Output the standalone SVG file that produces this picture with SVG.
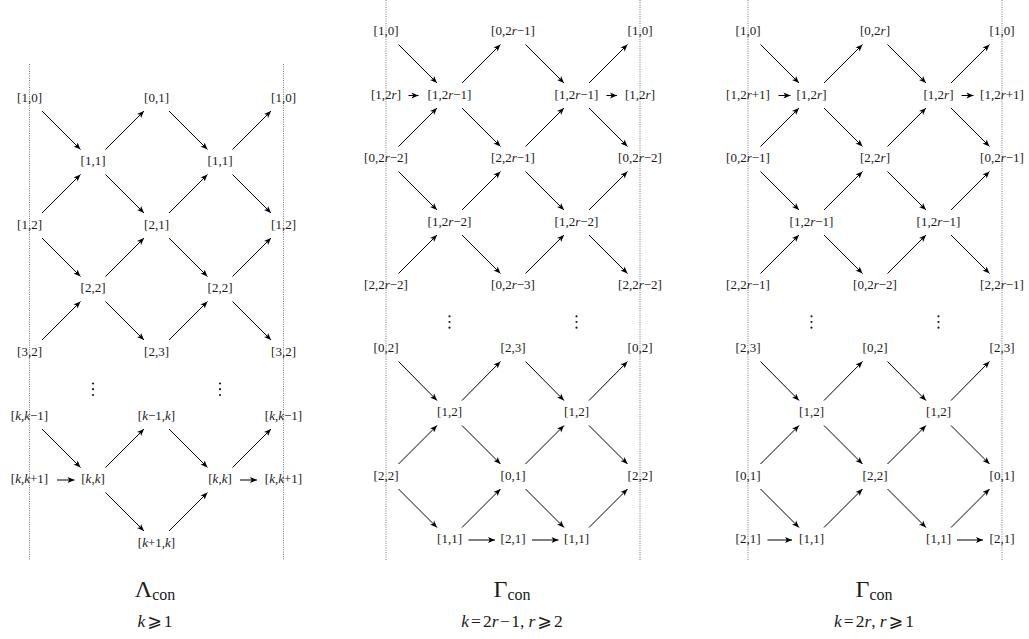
<svg xmlns="http://www.w3.org/2000/svg" width="1029" height="639" viewBox="0 0 1029 639">
  <defs>
    <marker id="head" viewBox="-7.5 -3.5 8 7" refX="0" refY="0" markerWidth="8" markerHeight="7" markerUnits="userSpaceOnUse" orient="auto">
      <path d="M0,0 L-7,-2.9 L-5.2,0 L-7,2.9 Z" fill="#000"/>
    </marker>
  </defs>
  <style>
    text { font-family: "Liberation Serif", "DejaVu Serif", "DejaVu Sans", serif; fill: #1a1a1a; }
    .node text { font-size: 13px; text-anchor: middle; }
    .v { font-style: italic; }
    .edge line { stroke: #000; stroke-width: 1; marker-end: url(#head); }
    .seam { stroke: #777; stroke-width: 1; stroke-dasharray: 1 1.3; fill: none; }
    .dots circle { fill: #1a1a1a; }
    .title { font-size: 24px; text-anchor: middle; }
    .title .sub { font-size: 16px; }
    .cond { font-size: 17.5px; text-anchor: middle; }
  </style>

  <!-- periodic seams (left and right sides are identified) -->
  <g id="seams">
    <line class="seam" x1="29.5" y1="64" x2="29.5" y2="560"/>
    <line class="seam" x1="283.5" y1="64" x2="283.5" y2="560"/>
    <line class="seam" x1="386" y1="0" x2="386" y2="560"/>
    <line class="seam" x1="640" y1="0" x2="640" y2="560"/>
    <line class="seam" x1="748" y1="0" x2="748" y2="560"/>
    <line class="seam" x1="1002" y1="0" x2="1002" y2="560"/>
  </g>

  <!-- arrows -->
  <g id="connectors" class="edge">
    <!-- Lambda_con, upper block -->
    <line x1="42" y1="111" x2="80.5" y2="149.5"/>
    <line x1="169" y1="111" x2="207.5" y2="149.5"/>
    <line x1="105.5" y1="174.5" x2="144" y2="213"/>
    <line x1="232.5" y1="174.5" x2="271" y2="213"/>
    <line x1="42" y1="238" x2="80.5" y2="276.5"/>
    <line x1="169" y1="238" x2="207.5" y2="276.5"/>
    <line x1="105.5" y1="301.5" x2="144" y2="340"/>
    <line x1="232.5" y1="301.5" x2="271" y2="340"/>
    <line x1="105.5" y1="149.5" x2="144" y2="111"/>
    <line x1="232.5" y1="149.5" x2="271" y2="111"/>
    <line x1="42" y1="213" x2="80.5" y2="174.5"/>
    <line x1="169" y1="213" x2="207.5" y2="174.5"/>
    <line x1="105.5" y1="276.5" x2="144" y2="238"/>
    <line x1="232.5" y1="276.5" x2="271" y2="238"/>
    <line x1="42" y1="340" x2="80.5" y2="301.5"/>
    <line x1="169" y1="340" x2="207.5" y2="301.5"/>
    <!-- Lambda_con, lower block -->
    <line x1="42" y1="429" x2="80.5" y2="467.5"/>
    <line x1="169" y1="429" x2="207.5" y2="467.5"/>
    <line x1="105.5" y1="467.5" x2="144" y2="429"/>
    <line x1="232.5" y1="467.5" x2="271" y2="429"/>
    <line x1="105.5" y1="492.5" x2="144" y2="531"/>
    <line x1="169" y1="531" x2="207.5" y2="492.5"/>
    <line x1="57" y1="480" x2="74.5" y2="480"/>
    <line x1="240" y1="480" x2="257" y2="480"/>

    <!-- Gamma_con (k odd), upper block -->
    <line x1="398.5" y1="44.5" x2="437" y2="83"/>
    <line x1="525.5" y1="44.5" x2="564" y2="83"/>
    <line x1="462" y1="108" x2="500.5" y2="146.5"/>
    <line x1="589" y1="108" x2="627.5" y2="146.5"/>
    <line x1="398.5" y1="171.5" x2="437" y2="210"/>
    <line x1="525.5" y1="171.5" x2="564" y2="210"/>
    <line x1="462" y1="235" x2="500.5" y2="273.5"/>
    <line x1="589" y1="235" x2="627.5" y2="273.5"/>
    <line x1="462" y1="83" x2="500.5" y2="44.5"/>
    <line x1="589" y1="83" x2="627.5" y2="44.5"/>
    <line x1="398.5" y1="146.5" x2="437" y2="108"/>
    <line x1="525.5" y1="146.5" x2="564" y2="108"/>
    <line x1="462" y1="210" x2="500.5" y2="171.5"/>
    <line x1="589" y1="210" x2="627.5" y2="171.5"/>
    <line x1="398.5" y1="273.5" x2="437" y2="235"/>
    <line x1="525.5" y1="273.5" x2="564" y2="235"/>
    <line x1="408.5" y1="95.5" x2="418.5" y2="95.5"/>
    <line x1="606.5" y1="95.5" x2="617" y2="95.5"/>
    <!-- Gamma_con (k odd), lower block -->
    <line x1="398.5" y1="361.5" x2="437" y2="400.5"/>
    <line x1="525.5" y1="361.5" x2="564" y2="400.5"/>
    <line x1="462" y1="425.5" x2="500.5" y2="464"/>
    <line x1="589" y1="425.5" x2="627.5" y2="464"/>
    <line x1="398.5" y1="489" x2="437" y2="527.5"/>
    <line x1="525.5" y1="489" x2="564" y2="527.5"/>
    <line x1="462" y1="400.5" x2="500.5" y2="361.5"/>
    <line x1="589" y1="400.5" x2="627.5" y2="361.5"/>
    <line x1="398.5" y1="464" x2="437" y2="425.5"/>
    <line x1="525.5" y1="464" x2="564" y2="425.5"/>
    <line x1="462" y1="527.5" x2="500.5" y2="489"/>
    <line x1="589" y1="527.5" x2="627.5" y2="489"/>
    <line x1="468.5" y1="540" x2="495" y2="540"/>
    <line x1="532" y1="540" x2="558.5" y2="540"/>

    <!-- Gamma_con (k even), upper block -->
    <line x1="760.5" y1="44.5" x2="799" y2="83"/>
    <line x1="887.5" y1="44.5" x2="926" y2="83"/>
    <line x1="824" y1="108" x2="862.5" y2="146.5"/>
    <line x1="951" y1="108" x2="989.5" y2="146.5"/>
    <line x1="760.5" y1="171.5" x2="799" y2="210"/>
    <line x1="887.5" y1="171.5" x2="926" y2="210"/>
    <line x1="824" y1="235" x2="862.5" y2="273.5"/>
    <line x1="951" y1="235" x2="989.5" y2="273.5"/>
    <line x1="824" y1="83" x2="862.5" y2="44.5"/>
    <line x1="951" y1="83" x2="989.5" y2="44.5"/>
    <line x1="760.5" y1="146.5" x2="799" y2="108"/>
    <line x1="887.5" y1="146.5" x2="926" y2="108"/>
    <line x1="824" y1="210" x2="862.5" y2="171.5"/>
    <line x1="951" y1="210" x2="989.5" y2="171.5"/>
    <line x1="760.5" y1="273.5" x2="799" y2="235"/>
    <line x1="887.5" y1="273.5" x2="926" y2="235"/>
    <line x1="778.5" y1="95.5" x2="790.5" y2="95.5"/>
    <line x1="961.5" y1="95.5" x2="973.5" y2="95.5"/>
    <!-- Gamma_con (k even), lower block -->
    <line x1="760.5" y1="361.5" x2="799" y2="400.5"/>
    <line x1="887.5" y1="361.5" x2="926" y2="400.5"/>
    <line x1="824" y1="425.5" x2="862.5" y2="464"/>
    <line x1="951" y1="425.5" x2="989.5" y2="464"/>
    <line x1="760.5" y1="489" x2="799" y2="527.5"/>
    <line x1="887.5" y1="489" x2="926" y2="527.5"/>
    <line x1="824" y1="400.5" x2="862.5" y2="361.5"/>
    <line x1="951" y1="400.5" x2="989.5" y2="361.5"/>
    <line x1="760.5" y1="464" x2="799" y2="425.5"/>
    <line x1="887.5" y1="464" x2="926" y2="425.5"/>
    <line x1="824" y1="527.5" x2="862.5" y2="489"/>
    <line x1="951" y1="527.5" x2="989.5" y2="489"/>
    <line x1="767.5" y1="540" x2="792" y2="540"/>
    <line x1="957" y1="540" x2="983" y2="540"/>
  </g>

  <!-- vertical ellipses -->
  <g id="ellipses" class="dots">
    <circle cx="93" cy="383.5" r="1.1"/><circle cx="93" cy="389.2" r="1.1"/><circle cx="93" cy="395" r="1.1"/>
    <circle cx="220" cy="383.5" r="1.1"/><circle cx="220" cy="389.2" r="1.1"/><circle cx="220" cy="395" r="1.1"/>
    <circle cx="449.5" cy="316.3" r="1.1"/><circle cx="449.5" cy="322" r="1.1"/><circle cx="449.5" cy="327.7" r="1.1"/>
    <circle cx="576.5" cy="316.3" r="1.1"/><circle cx="576.5" cy="322" r="1.1"/><circle cx="576.5" cy="327.7" r="1.1"/>
    <circle cx="811.5" cy="316.3" r="1.1"/><circle cx="811.5" cy="322" r="1.1"/><circle cx="811.5" cy="327.7" r="1.1"/>
    <circle cx="938.5" cy="316.3" r="1.1"/><circle cx="938.5" cy="322" r="1.1"/><circle cx="938.5" cy="327.7" r="1.1"/>
  </g>

  <!-- Lambda_con nodes -->
  <g class="node">
    <g id="L-1-0-a" transform="translate(29.5,98.5)"><text y="3.4">[1,0]</text></g>
    <g id="L-0-1" transform="translate(156.5,98.5)"><text y="3.4">[0,1]</text></g>
    <g id="L-1-0-b" transform="translate(283.5,98.5)"><text y="3.4">[1,0]</text></g>
    <g id="L-1-1-a" transform="translate(93,162)"><text y="3.4">[1,1]</text></g>
    <g id="L-1-1-b" transform="translate(220,162)"><text y="3.4">[1,1]</text></g>
    <g id="L-1-2-a" transform="translate(29.5,225.5)"><text y="3.4">[1,2]</text></g>
    <g id="L-2-1" transform="translate(156.5,225.5)"><text y="3.4">[2,1]</text></g>
    <g id="L-1-2-b" transform="translate(283.5,225.5)"><text y="3.4">[1,2]</text></g>
    <g id="L-2-2-a" transform="translate(93,289)"><text y="3.4">[2,2]</text></g>
    <g id="L-2-2-b" transform="translate(220,289)"><text y="3.4">[2,2]</text></g>
    <g id="L-3-2-a" transform="translate(29.5,352.5)"><text y="3.4">[3,2]</text></g>
    <g id="L-2-3" transform="translate(156.5,352.5)"><text y="3.4">[2,3]</text></g>
    <g id="L-3-2-b" transform="translate(283.5,352.5)"><text y="3.4">[3,2]</text></g>
    <g id="L-k-km1-a" transform="translate(29.5,416.5)"><text y="3.4">[<tspan class="v">k</tspan>,<tspan class="v">k</tspan>−1]</text></g>
    <g id="L-km1-k" transform="translate(156.5,416.5)"><text y="3.4">[<tspan class="v">k</tspan>−1,<tspan class="v">k</tspan>]</text></g>
    <g id="L-k-km1-b" transform="translate(283.5,416.5)"><text y="3.4">[<tspan class="v">k</tspan>,<tspan class="v">k</tspan>−1]</text></g>
    <g id="L-k-kp1-a" transform="translate(29.5,480)"><text y="3.4">[<tspan class="v">k</tspan>,<tspan class="v">k</tspan>+1]</text></g>
    <g id="L-k-k-a" transform="translate(93,480)"><text y="3.4">[<tspan class="v">k</tspan>,<tspan class="v">k</tspan>]</text></g>
    <g id="L-k-k-b" transform="translate(220,480)"><text y="3.4">[<tspan class="v">k</tspan>,<tspan class="v">k</tspan>]</text></g>
    <g id="L-k-kp1-b" transform="translate(283.5,480)"><text y="3.4">[<tspan class="v">k</tspan>,<tspan class="v">k</tspan>+1]</text></g>
    <g id="L-kp1-k" transform="translate(156.5,543.5)"><text y="3.4">[<tspan class="v">k</tspan>+1,<tspan class="v">k</tspan>]</text></g>
  </g>

  <!-- Gamma_con nodes, k = 2r-1 -->
  <g class="node">
    <g id="G1-1-0-a" transform="translate(386,32)"><text y="3.4">[1,0]</text></g>
    <g id="G1-0-2rm1" transform="translate(513,32)"><text y="3.4">[0,2<tspan class="v">r</tspan>−1]</text></g>
    <g id="G1-1-0-b" transform="translate(640,32)"><text y="3.4">[1,0]</text></g>
    <g id="G1-1-2r-a" transform="translate(386,95.5)"><text y="3.4">[1,2<tspan class="v">r</tspan>]</text></g>
    <g id="G1-1-2rm1-a" transform="translate(449.5,95.5)"><text y="3.4">[1,2<tspan class="v">r</tspan>−1]</text></g>
    <g id="G1-1-2rm1-b" transform="translate(576.5,95.5)"><text y="3.4">[1,2<tspan class="v">r</tspan>−1]</text></g>
    <g id="G1-1-2r-b" transform="translate(640,95.5)"><text y="3.4">[1,2<tspan class="v">r</tspan>]</text></g>
    <g id="G1-0-2rm2-a" transform="translate(386,159)"><text y="3.4">[0,2<tspan class="v">r</tspan>−2]</text></g>
    <g id="G1-2-2rm1" transform="translate(513,159)"><text y="3.4">[2,2<tspan class="v">r</tspan>−1]</text></g>
    <g id="G1-0-2rm2-b" transform="translate(640,159)"><text y="3.4">[0,2<tspan class="v">r</tspan>−2]</text></g>
    <g id="G1-1-2rm2-a" transform="translate(449.5,222.5)"><text y="3.4">[1,2<tspan class="v">r</tspan>−2]</text></g>
    <g id="G1-1-2rm2-b" transform="translate(576.5,222.5)"><text y="3.4">[1,2<tspan class="v">r</tspan>−2]</text></g>
    <g id="G1-2-2rm2-a" transform="translate(386,286)"><text y="3.4">[2,2<tspan class="v">r</tspan>−2]</text></g>
    <g id="G1-0-2rm3" transform="translate(513,286)"><text y="3.4">[0,2<tspan class="v">r</tspan>−3]</text></g>
    <g id="G1-2-2rm2-b" transform="translate(640,286)"><text y="3.4">[2,2<tspan class="v">r</tspan>−2]</text></g>
    <g id="G1-0-2-a" transform="translate(386,349)"><text y="3.4">[0,2]</text></g>
    <g id="G1-2-3" transform="translate(513,349)"><text y="3.4">[2,3]</text></g>
    <g id="G1-0-2-b" transform="translate(640,349)"><text y="3.4">[0,2]</text></g>
    <g id="G1-1-2-a" transform="translate(449.5,413)"><text y="3.4">[1,2]</text></g>
    <g id="G1-1-2-b" transform="translate(576.5,413)"><text y="3.4">[1,2]</text></g>
    <g id="G1-2-2-a" transform="translate(386,476.5)"><text y="3.4">[2,2]</text></g>
    <g id="G1-0-1" transform="translate(513,476.5)"><text y="3.4">[0,1]</text></g>
    <g id="G1-2-2-b" transform="translate(640,476.5)"><text y="3.4">[2,2]</text></g>
    <g id="G1-1-1-a" transform="translate(449.5,540)"><text y="3.4">[1,1]</text></g>
    <g id="G1-2-1" transform="translate(513,540)"><text y="3.4">[2,1]</text></g>
    <g id="G1-1-1-b" transform="translate(576.5,540)"><text y="3.4">[1,1]</text></g>
  </g>

  <!-- Gamma_con nodes, k = 2r -->
  <g class="node">
    <g id="G2-1-0-a" transform="translate(748,32)"><text y="3.4">[1,0]</text></g>
    <g id="G2-0-2r" transform="translate(875,32)"><text y="3.4">[0,2<tspan class="v">r</tspan>]</text></g>
    <g id="G2-1-0-b" transform="translate(1002,32)"><text y="3.4">[1,0]</text></g>
    <g id="G2-1-2rp1-a" transform="translate(748,95.5)"><text y="3.4">[1,2<tspan class="v">r</tspan>+1]</text></g>
    <g id="G2-1-2r-a" transform="translate(811.5,95.5)"><text y="3.4">[1,2<tspan class="v">r</tspan>]</text></g>
    <g id="G2-1-2r-b" transform="translate(938.5,95.5)"><text y="3.4">[1,2<tspan class="v">r</tspan>]</text></g>
    <g id="G2-1-2rp1-b" transform="translate(1002,95.5)"><text y="3.4">[1,2<tspan class="v">r</tspan>+1]</text></g>
    <g id="G2-0-2rm1-a" transform="translate(748,159)"><text y="3.4">[0,2<tspan class="v">r</tspan>−1]</text></g>
    <g id="G2-2-2r" transform="translate(875,159)"><text y="3.4">[2,2<tspan class="v">r</tspan>]</text></g>
    <g id="G2-0-2rm1-b" transform="translate(1002,159)"><text y="3.4">[0,2<tspan class="v">r</tspan>−1]</text></g>
    <g id="G2-1-2rm1-a" transform="translate(811.5,222.5)"><text y="3.4">[1,2<tspan class="v">r</tspan>−1]</text></g>
    <g id="G2-1-2rm1-b" transform="translate(938.5,222.5)"><text y="3.4">[1,2<tspan class="v">r</tspan>−1]</text></g>
    <g id="G2-2-2rm1-a" transform="translate(748,286)"><text y="3.4">[2,2<tspan class="v">r</tspan>−1]</text></g>
    <g id="G2-0-2rm2" transform="translate(875,286)"><text y="3.4">[0,2<tspan class="v">r</tspan>−2]</text></g>
    <g id="G2-2-2rm1-b" transform="translate(1002,286)"><text y="3.4">[2,2<tspan class="v">r</tspan>−1]</text></g>
    <g id="G2-2-3-a" transform="translate(748,349)"><text y="3.4">[2,3]</text></g>
    <g id="G2-0-2" transform="translate(875,349)"><text y="3.4">[0,2]</text></g>
    <g id="G2-2-3-b" transform="translate(1002,349)"><text y="3.4">[2,3]</text></g>
    <g id="G2-1-2-a" transform="translate(811.5,413)"><text y="3.4">[1,2]</text></g>
    <g id="G2-1-2-b" transform="translate(938.5,413)"><text y="3.4">[1,2]</text></g>
    <g id="G2-0-1-a" transform="translate(748,476.5)"><text y="3.4">[0,1]</text></g>
    <g id="G2-2-2" transform="translate(875,476.5)"><text y="3.4">[2,2]</text></g>
    <g id="G2-0-1-b" transform="translate(1002,476.5)"><text y="3.4">[0,1]</text></g>
    <g id="G2-2-1-a" transform="translate(748,540)"><text y="3.4">[2,1]</text></g>
    <g id="G2-1-1-a" transform="translate(811.5,540)"><text y="3.4">[1,1]</text></g>
    <g id="G2-1-1-b" transform="translate(938.5,540)"><text y="3.4">[1,1]</text></g>
    <g id="G2-2-1-b" transform="translate(1002,540)"><text y="3.4">[2,1]</text></g>
  </g>

  <!-- captions -->
  <g id="caption-lambda">
    <text class="title" x="155" y="597">Λ<tspan class="sub" dy="2.5">con</tspan></text>
    <text class="cond" x="155" y="627"><tspan class="v">k</tspan><tspan dx="2">⩾</tspan><tspan dx="2">1</tspan></text>
  </g>
  <g id="caption-gamma-odd">
    <text class="title" x="512" y="597">Γ<tspan class="sub" dy="2.5">con</tspan></text>
    <text class="cond" x="512" y="627"><tspan class="v">k</tspan><tspan dx="2">=</tspan><tspan dx="2">2</tspan><tspan class="v">r</tspan><tspan dx="1.5">−</tspan><tspan dx="1.5">1,</tspan><tspan dx="4" class="v">r</tspan><tspan dx="2">⩾</tspan><tspan dx="2">2</tspan></text>
  </g>
  <g id="caption-gamma-even">
    <text class="title" x="874" y="597">Γ<tspan class="sub" dy="2.5">con</tspan></text>
    <text class="cond" x="874" y="627"><tspan class="v">k</tspan><tspan dx="2">=</tspan><tspan dx="2">2</tspan><tspan class="v">r</tspan>,<tspan dx="4" class="v">r</tspan><tspan dx="2">⩾</tspan><tspan dx="2">1</tspan></text>
  </g>
</svg>
